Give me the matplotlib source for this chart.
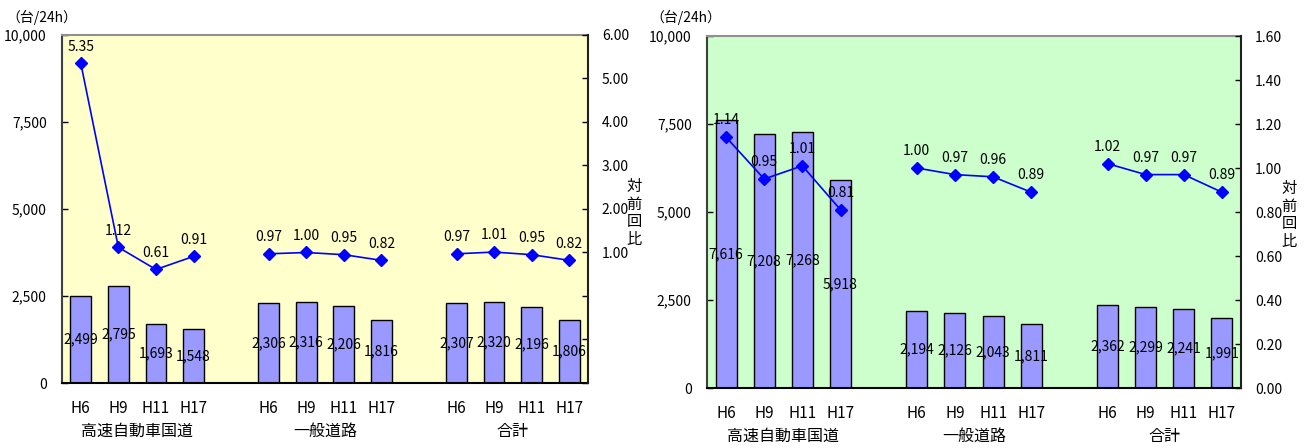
import matplotlib
matplotlib.use("Agg")
import matplotlib.pyplot as plt
import numpy as np

plt.rcParams['font.family'] = ['Noto Sans CJK JP', 'DejaVu Sans']

groups = ["高速自動車国道", "一般道路", "合計"]
years = ["H6", "H9", "H11", "H17"]

# Left chart
left_vol = [[2499, 2795, 1693, 1548], [2306, 2316, 2206, 1816], [2307, 2320, 2196, 1806]]
left_ratio = [[5.35, 1.12, 0.61, 0.91], [0.97, 1.00, 0.95, 0.82], [0.97, 1.01, 0.95, 0.82]]
# Right chart
right_vol = [[7616, 7208, 7268, 5918], [2194, 2126, 2043, 1811], [2362, 2299, 2241, 1991]]
right_ratio = [[1.14, 0.95, 1.01, 0.81], [1.00, 0.97, 0.96, 0.89], [1.02, 0.97, 0.97, 0.89]]

vol_ticks = [0, 2500, 5000, 7500, 10000]

fig = plt.figure(figsize=(13.08, 4.48), dpi=100)

def draw(rect, vols, ratios, bg, r_lim, r_ticks, r_label_min, fs=10):
    ax = fig.add_axes(rect)
    ax.set_facecolor(bg)
    ax.set_xlim(0, 14)
    ax.set_ylim(0, 10000)
    ax.set_yticks(vol_ticks)
    ax.set_yticklabels([f"{v:,}" for v in vol_ticks], fontsize=fs)
    ax.tick_params(axis='y', direction='in', length=4, pad=11, width=1)
    ax.set_xticks([])
    ax.spines['top'].set_color('#909090')
    ax.spines['top'].set_linewidth(1.5)
    ax.spines['left'].set_color('#404040')
    ax.spines['left'].set_linewidth(1.5)
    ax.spines['bottom'].set_color('black')
    ax.spines['bottom'].set_linewidth(1.5)
    ax.spines['right'].set_visible(False)

    ax2 = ax.twinx()
    ax2.set_ylim(*r_lim)
    ax2.set_yticks(r_ticks)
    ax2.set_yticklabels([f"{t:.2f}" if t >= r_label_min - 1e-9 else "" for t in r_ticks], fontsize=fs)
    ax2.tick_params(axis='y', direction='in', length=4, pad=10, width=1)
    ax2.spines['right'].set_color('#202020')
    ax2.spines['right'].set_linewidth(1.5)
    for s in ['top', 'left', 'bottom']:
        ax2.spines[s].set_visible(False)

    for gi, (g, vs, rs) in enumerate(zip(groups, vols, ratios)):
        xs = np.arange(4) + gi * 5 + 0.5
        ax.bar(xs, vs, width=0.55, color='#9999FF', edgecolor='black', linewidth=1.0, zorder=2)
        for x, v in zip(xs, vs):
            ax.text(x, v / 2, f"{v:,}", ha='center', va='center', fontsize=fs, zorder=5)
        ax2.plot(xs, rs, color='#0000FF', linewidth=1.2, marker='D', markersize=6,
                 markerfacecolor='#0000FF', markeredgecolor='#0000FF', zorder=4)
        for x, r in zip(xs, rs):
            ax2.annotate(f"{r:.2f}", (x, r), xytext=(0, 7), textcoords='offset points',
                         ha='center', va='bottom', fontsize=fs)
        for x, y in zip(xs, years):
            ax.annotate(y, (x, 0), xycoords=('data', 'axes fraction'), xytext=(0, -18),
                        textcoords='offset points', ha='center', va='center', fontsize=11)
        ax.annotate(g, (xs.mean(), 0), xycoords=('data', 'axes fraction'), xytext=(0, -35),
                    textcoords='offset points', ha='center', va='center', fontsize=11.5)
    return ax, ax2

# Left chart
l = 62 / 1308; r = 588 / 1308; t = 1 - 35 / 448; b = 1 - 383 / 448
draw([l, b, r - l, t - b], left_vol, left_ratio, '#FFFFCC',
     (-2, 6), list(range(-2, 7)), 1.0)
fig.text(6 / 1308, 1 - 17 / 448, "（台/24h）", ha='left', va='center', fontsize=10)
fig.text(634 / 1308, 1 - 213 / 448, "対\n前\n回\n比", ha='center', va='center',
         fontsize=11, linespacing=1.05)

# Right chart
l = 707 / 1308; r = 1241 / 1308; t = 1 - 36 / 448; b = 1 - 388 / 448
draw([l, b, r - l, t - b], right_vol, right_ratio, '#CCFFCC',
     (0, 1.6), [round(0.2 * i, 2) for i in range(9)], 0.0)
fig.text(650 / 1308, 1 - 17 / 448, "（台/24h）", ha='left', va='center', fontsize=10)
fig.text(1289 / 1308, 1 - 215 / 448, "対\n前\n回\n比", ha='center', va='center',
         fontsize=11, linespacing=1.05)

fig.savefig("out.png", dpi=100)
